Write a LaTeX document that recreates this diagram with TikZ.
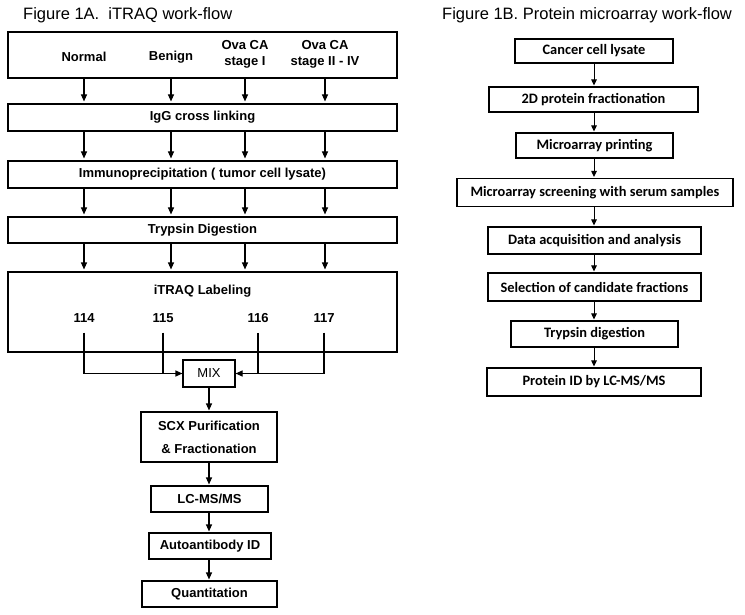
\documentclass[tikz,border=0pt]{standalone}
\usepackage{fontspec}
\setmainfont{Liberation Sans}
\newfontfamily\carlitofont{Carlito}
\usetikzlibrary{arrows.meta}
\begin{document}
\begin{tikzpicture}[x=1pt,y=-1pt,
  box/.style={draw, line width=1.1pt, inner sep=0pt, font=\fontsize{13}{15}\selectfont\bfseries, align=center},
  rbox/.style={draw, line width=1.1pt, inner sep=0pt, font=\carlitofont\fontsize{14.4}{16}\selectfont\bfseries},
  lbl/.style={font=\fontsize{13}{15.5}\selectfont\bfseries, align=center, inner sep=0pt},
  arr/.style={line width=1.1pt, -{Triangle[length=7pt,width=6pt]}, shorten >=2pt},
  rarr/.style={line width=1pt, -{Triangle[length=6pt,width=5.5pt]}, shorten >=1pt},
  ln/.style={line width=1.1pt},
  ttl/.style={font=\fontsize{16.5}{18}\selectfont, inner sep=0pt}]
\useasboundingbox (0,0) rectangle (745,615);

% titles
\node[ttl, anchor=west] (ta) at (23,15) {Figure 1A.\ \ iTRAQ work-flow};
\node[ttl, anchor=west] (tb) at (442,15) {Figure 1B. Protein microarray work-flow};

% ---- Figure 1A ----
\node[box, minimum width=389pt, minimum height=46pt] (top) at (202.5,55) {};
\node[lbl] (normal) at (84,57) {Normal};
\node[lbl] (benign) at (171,57) {Benign};
\node[lbl] (ovai) at (245,54.5) {Ova CA\\stage I};
\node[lbl] (ovaii) at (325,54.5) {Ova CA\\stage II - IV};

\node[box, minimum width=389pt, minimum height=27pt] (igg) at (202.5,117.5) {IgG cross linking};
\node[box, minimum width=389pt, minimum height=27pt] (immuno) at (202.5,174.5) {Immunoprecipitation ( tumor cell lysate)};
\node[box, minimum width=389pt, minimum height=26pt] (tryp) at (202.5,230) {Trypsin Digestion};
\node[box, minimum width=389pt, minimum height=80pt] (itraq) at (202.5,312) {};
\node[lbl] (itraqt) at (202.5,291) {iTRAQ Labeling};

\foreach \a/\b in {top/igg, igg/immuno, immuno/tryp, tryp/itraq}
  \foreach \c in {normal, benign, ovai, ovaii}
    \draw[arr] (\c |- \a.south) -- (\c |- \b.north);

\node[lbl] (n114) at (84,318) {114};
\node[lbl] (n115) at (163,318) {115};
\node[lbl] (n116) at (258,318) {116};
\node[lbl] (n117) at (324,318) {117};

\node[box, font=\fontsize{13}{15}\selectfont, minimum width=52pt, minimum height=27pt] (mix) at (209,373.5) {MIX};

\draw[arr, shorten >=0pt] ([yshift=-10pt]n114.south) |- (mix.west);
\draw[ln] ([yshift=-10pt]n115.south) -- (n115.south |- mix.west);
\draw[arr, shorten >=0pt] ([yshift=-10pt]n117.south) |- (mix.east);
\draw[ln] ([yshift=-10pt]n116.south) -- (n116.south |- mix.east);

\node[box, minimum width=136pt, minimum height=50pt] (scx) at (209,437) {SCX Purification\\[8pt]\& Fractionation};
\node[box, minimum width=117pt, minimum height=26pt] (lc) at (209.5,499) {LC-MS/MS};
\node[box, minimum width=122pt, minimum height=26pt] (auto) at (210,546) {Autoantibody ID};
\node[box, minimum width=135pt, minimum height=26pt] (quant) at (209.5,594) {Quantitation};

\draw[arr, shorten >=1pt] (mix.south) -- (mix.south |- scx.north);
\draw[arr, shorten >=1pt] (mix.south |- scx.south) -- (mix.south |- lc.north);
\draw[arr, shorten >=1pt] (mix.south |- lc.south) -- (mix.south |- auto.north);
\draw[arr, shorten >=1pt] (mix.south |- auto.south) -- (mix.south |- quant.north);

% ---- Figure 1B ----
\node[rbox, minimum width=158pt, minimum height=24pt] (cancer) at (594,51) {Cancer cell lysate};
\node[rbox, minimum width=209pt, minimum height=25pt] (twod) at (593.5,99.5) {2D protein fractionation};
\node[rbox, minimum width=157pt, minimum height=25pt] (mprint) at (594.5,145.5) {Microarray printing};
\node[rbox, minimum width=276pt, minimum height=28pt] (screen) at (595,192.5) {Microarray screening with serum samples};
\node[rbox, minimum width=213pt, minimum height=27pt] (data) at (594.5,240.5) {Data acquisition and analysis};
\node[rbox, minimum width=213pt, minimum height=28pt] (sel) at (594.5,287) {Selection of candidate fractions};
\node[rbox, minimum width=167pt, minimum height=26pt] (rtryp) at (594.5,334) {Trypsin digestion};
\node[rbox, minimum width=214pt, minimum height=28pt] (pid) at (594,382) {Protein ID by LC-MS/MS};

\foreach \a/\b in {cancer/twod, twod/mprint, mprint/screen, screen/data, data/sel, sel/rtryp, rtryp/pid}
  \draw[rarr] (cancer.south |- \a.south) -- (cancer.south |- \b.north);
\end{tikzpicture}
\end{document}
